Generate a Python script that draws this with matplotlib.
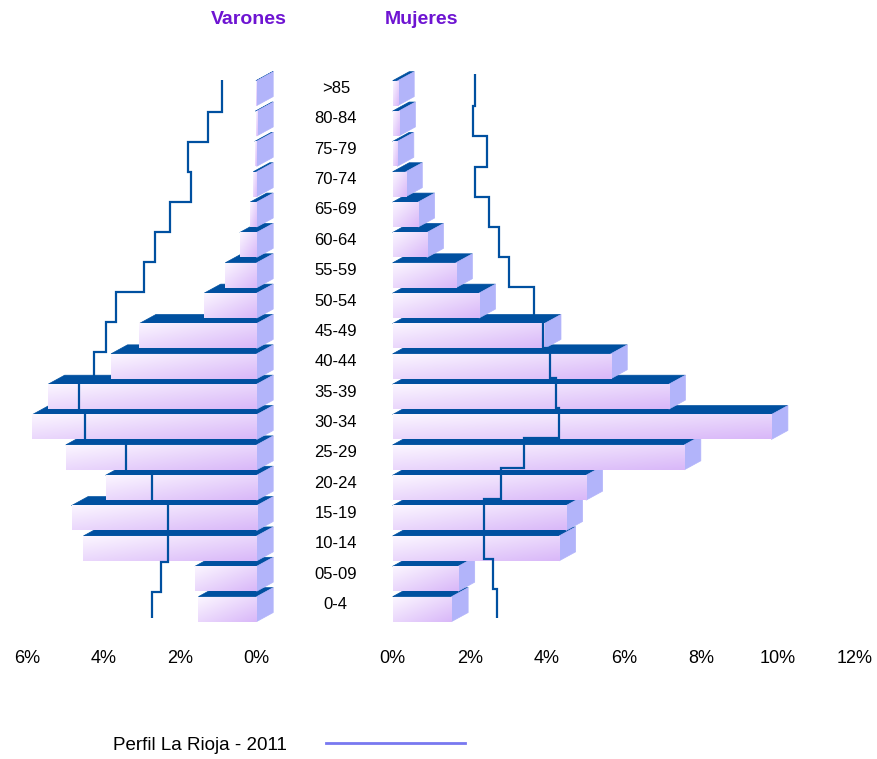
import numpy as np
import matplotlib
matplotlib.use("Agg")
import matplotlib.pyplot as plt
from matplotlib.patches import Polygon
from matplotlib.lines import Line2D

plt.rcParams['font.family'] = ['Liberation Sans', 'DejaVu Sans']

# ---------------------- DATA ----------------------
grupos = ["0-4", "05-09", "10-14", "15-19", "20-24", "25-29", "30-34", "35-39", "40-44",
          "45-49", "50-54", "55-59", "60-64", "65-69", "70-74", "75-79", "80-84", ">85"]
varones = [1.52, 1.61, 4.52, 4.83, 3.94, 4.98, 5.85, 5.44, 3.80, 3.06, 1.37, 0.82,
           0.44, 0.17, 0.09, 0.05, 0.03, 0.02]
mujeres = [1.53, 1.70, 4.32, 4.50, 5.02, 7.57, 9.83, 7.17, 5.66, 3.94, 2.24, 1.64,
           0.89, 0.66, 0.34, 0.12, 0.16, 0.13]
# Perfil La Rioja - 2011
perfil_varones = [2.74, 2.50, 2.32, 2.32, 2.72, 3.41, 4.48, 4.64, 4.24, 3.93, 3.68, 2.94,
                  2.65, 2.26, 1.71, 1.80, 1.26, 0.91]
perfil_mujeres = [2.70, 2.61, 2.38, 2.38, 2.80, 3.41, 4.32, 4.23, 4.09, 3.91, 3.66, 3.03,
                  2.77, 2.51, 2.14, 2.46, 2.08, 2.14]
ticks_varones = [6, 4, 2, 0]
ticks_mujeres = [0, 2, 4, 6, 8, 10, 12]

# ---------------------- STYLE ----------------------
W, H = 877, 759
col_top = "#0050A0"
col_side = "#B2B4FA"
col_light = np.array([0.985, 0.965, 1.0])
col_dark = np.array([0.85, 0.72, 0.975])
col_title = "#6E14D2"
depth_px = (16.5, 9.0)
px_unit = 30.35  # pixels per age group

fig = plt.figure(figsize=(W / 100, H / 100), dpi=100)
ax_v = fig.add_axes([26.7 / W, (H - 618.2) / H, 230 / W, 546.3 / H])
ax_m = fig.add_axes([392.7 / W, (H - 618.2) / H, 462.3 / W, 546.3 / H])
ax_v.set_xlim(6, 0)
ax_m.set_xlim(0, 12)

# gradient for the front faces
n = 32
gu, gv = np.meshgrid(np.linspace(0, 1, n), np.linspace(0, 1, n))
t = ((gu + gv) / 2)[..., None]
grad = col_light * (1 - t) + col_dark * t


def barra_3d(ax, i, valor, izquierda):
    x0, x1 = ax.get_xlim()
    ppx = ax.get_position().width * W / (x1 - x0)
    ddx = depth_px[0] / ppx
    ddy = depth_px[1] / px_unit
    yb, yt = i - 0.61, i + 0.21
    xl, xr = (valor, 0) if izquierda else (0, valor)
    z = 2 + i * 0.01
    top = Polygon([(xl, yt), (xr, yt), (xr + ddx, yt + ddy), (xl + ddx, yt + ddy)],
                  closed=True, facecolor=col_top, edgecolor=col_top, lw=0.5,
                  zorder=z, clip_on=False)
    side = Polygon([(xr, yb), (xr, yt), (xr + ddx, yt + ddy), (xr + ddx, yb + ddy)],
                   closed=True, facecolor=col_side, edgecolor=col_side, lw=0.5,
                   zorder=z, clip_on=False)
    ax.add_patch(top)
    ax.add_patch(side)
    ax.imshow(grad, extent=(xl, xr, yb, yt), origin='upper', aspect='auto',
              interpolation='bilinear', zorder=z + 0.005, clip_on=False)


for i in range(len(grupos)):
    barra_3d(ax_v, i, varones[i], True)
    barra_3d(ax_m, i, mujeres[i], False)

# step profile
edges_v = np.concatenate([[-0.66], np.linspace(0.35, 16.19, 17), [17.23]])
edges_m = np.concatenate([[-0.63], np.linspace(0.46, 16.37, 17), [17.43]])
ax_v.stairs(perfil_varones, edges_v, orientation='horizontal', baseline=None,
            color=col_top, lw=1.6, zorder=10)
ax_m.stairs(perfil_mujeres, edges_m, orientation='horizontal', baseline=None,
            color=col_top, lw=1.6, zorder=10)

for ax in (ax_v, ax_m):
    ax.set_ylim(-0.5, 17.5)
    for s in ax.spines.values():
        s.set_visible(False)
    ax.tick_params(axis='x', length=0, pad=23, labelsize=13)
    ax.patch.set_alpha(0)

ax_v.set_xlim(6, 0)
ax_m.set_xlim(0, 12)
ax_v.set_xticks(ticks_varones)
ax_v.set_xticklabels([f"{v}%" for v in ticks_varones])
ax_m.set_xticks(ticks_mujeres)
ax_m.set_xticklabels([f"{v}%" for v in ticks_mujeres])
ax_v.set_yticks([])
ax_m.set_yticks(range(len(grupos)))
ax_m.set_yticklabels(grupos, ha='center', fontsize=12)
ax_m.tick_params(axis='y', length=0, pad=41)

fig.text(249 / W, 1 - 19 / H, "Varones", ha='center', va='center',
         fontsize=14, fontweight='bold', color=col_title)
fig.text(422 / W, 1 - 19 / H, "Mujeres", ha='center', va='center',
         fontsize=14, fontweight='bold', color=col_title)

fig.legend(handles=[Line2D([], [], color="#7878F0", lw=2)],
           labels=["Perfil La Rioja - 2011"], markerfirst=False, frameon=False,
           loc='center left', bbox_to_anchor=(113 / W, 1 - 745 / H),
           fontsize=13.5, handlelength=7.4, handletextpad=2.1,
           borderpad=0, borderaxespad=0)

fig.savefig("out.png", dpi=100)
